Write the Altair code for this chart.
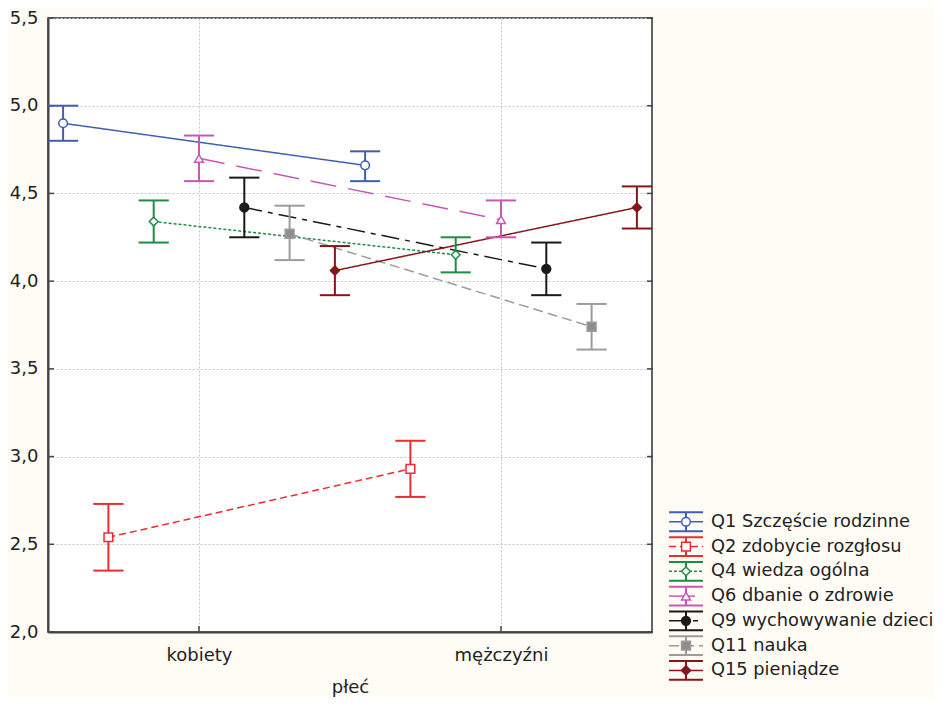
import altair as alt
import pandas as pd

series = ["Q1 Szczęście rodzinne", "Q2 zdobycie rozgłosu", "Q4 wiedza ogólna",
          "Q6 dbanie o zdrowie", "Q9 wychowywanie dzieci", "Q11 nauka", "Q15 pieniądze"]
categories = ["kobiety", "mężczyźni"]

mean_kobiety = [4.90, 2.54, 4.34, 4.70, 4.42, 4.27, 4.06]
lo_kobiety = [4.80, 2.35, 4.22, 4.57, 4.25, 4.12, 3.92]
hi_kobiety = [5.00, 2.73, 4.46, 4.83, 4.59, 4.43, 4.20]

mean_mezczyzni = [4.66, 2.93, 4.15, 4.35, 4.07, 3.74, 4.42]
lo_mezczyzni = [4.57, 2.77, 4.05, 4.25, 3.92, 3.61, 4.30]
hi_mezczyzni = [4.74, 3.09, 4.25, 4.46, 4.22, 3.87, 4.54]

y_ticks = [2.0, 2.5, 3.0, 3.5, 4.0, 4.5, 5.0, 5.5]

# styles
colors = ["#3F5FAF", "#EE2B30", "#1E8C45", "#C957B4", "#1A1A1A", "#9C9C9C", "#87161A"]
fills = ["white", "white", "white", "white", "#1A1A1A", "#8E8E8E", "#87161A"]
shapes = ["circle", "square", "diamond", "triangle-up", "circle", "square", "diamond"]
dashes = [[1, 0], [7, 4], [3, 2], [26, 12], [18, 6, 5, 6], [10, 5], [1, 0]]
sizes = [75, 80, 85, 90, 110, 120, 110]

rows = []
for i, s in enumerate(series):
    off = (i - 3) * 0.15
    for g, (m, lo, hi) in enumerate([(mean_kobiety[i], lo_kobiety[i], hi_kobiety[i]),
                                     (mean_mezczyzni[i], lo_mezczyzni[i], hi_mezczyzni[i])]):
        rows.append(dict(series=s, cat=categories[g], x=g + off, mean=m, lo=lo, hi=hi))
df = pd.DataFrame(rows)

FONT = "DejaVu Sans"
TXT = "#222222"

xscale = alt.Scale(domain=[-0.5, 1.5], nice=False, zero=False)
yscale = alt.Scale(domain=[2.0, 5.5], nice=False, zero=False)
color_scale = alt.Scale(domain=series, range=colors)
fill_scale = alt.Scale(domain=series, range=fills)
shape_scale = alt.Scale(domain=series, range=shapes)
dash_scale = alt.Scale(domain=series, range=dashes)
size_scale = alt.Scale(domain=series, range=sizes)

xaxis = alt.Axis(values=[0, 1],
                 labelExpr=f"datum.value == 0 ? '{categories[0]}' : '{categories[1]}'",
                 title="płeć", grid=True, gridDash=[2, 2], gridColor="#c4c4c4", gridWidth=1,
                 ticks=False, domainColor="#444444", domainWidth=2,
                 labelFont=FONT, labelFontSize=18, labelColor=TXT, labelPadding=14,
                 titleFont=FONT, titleFontSize=18, titleColor=TXT, titleFontWeight="normal",
                 titlePadding=14)
yaxis = alt.Axis(values=y_ticks,
                 labelExpr="replace(format(datum.value, '.1f'), '.', ',')",
                 title=None, grid=True, gridDash=[2, 2], gridColor="#c4c4c4", gridWidth=1,
                 ticks=False, domainColor="#444444", domainWidth=2,
                 labelFont=FONT, labelFontSize=18, labelColor=TXT, labelPadding=10)

X = alt.X("x:Q", scale=xscale, axis=xaxis)
base = alt.Chart(df)

lines = base.mark_line(strokeWidth=1.5).encode(
    x=X, y=alt.Y("mean:Q", scale=yscale, axis=yaxis),
    color=alt.Color("series:N", scale=color_scale, legend=None),
    strokeDash=alt.StrokeDash("series:N", scale=dash_scale, legend=None),
    detail="series:N",
)
bars = base.mark_rule(strokeWidth=2).encode(
    x=X, y=alt.Y("lo:Q", scale=yscale, axis=yaxis), y2="hi:Q",
    color=alt.Color("series:N", scale=color_scale, legend=None),
)
caps_lo = base.transform_calculate(xl="datum.x - 0.05", xr="datum.x + 0.05").mark_rule(strokeWidth=2).encode(
    x=alt.X("xl:Q", scale=xscale, axis=xaxis), x2="xr:Q",
    y=alt.Y("lo:Q", scale=yscale, axis=yaxis),
    color=alt.Color("series:N", scale=color_scale, legend=None),
)
caps_hi = base.transform_calculate(xl="datum.x - 0.05", xr="datum.x + 0.05").mark_rule(strokeWidth=2).encode(
    x=alt.X("xl:Q", scale=xscale, axis=xaxis), x2="xr:Q",
    y=alt.Y("hi:Q", scale=yscale, axis=yaxis),
    color=alt.Color("series:N", scale=color_scale, legend=None),
)
points = base.mark_point(filled=True, strokeWidth=1.5, opacity=1).encode(
    x=X, y=alt.Y("mean:Q", scale=yscale, axis=yaxis),
    shape=alt.Shape("series:N", scale=shape_scale, legend=None),
    fill=alt.Fill("series:N", scale=fill_scale, legend=None),
    stroke=alt.Stroke("series:N", scale=color_scale, legend=None),
    size=alt.Size("series:N", scale=size_scale, legend=None),
)

ytick_df = pd.DataFrame({"v": y_ticks})
xtick_df = pd.DataFrame({"v": [0, 1]})
tick_l = alt.Chart(ytick_df).mark_rule(color="#444444", strokeWidth=1.5).encode(
    y=alt.Y("v:Q", scale=yscale, axis=yaxis), x=alt.value(0), x2=alt.value(6))
tick_r = alt.Chart(ytick_df).mark_rule(color="#444444", strokeWidth=1.5).encode(
    y=alt.Y("v:Q", scale=yscale, axis=yaxis), x=alt.value(599), x2=alt.value(605))
tick_b = alt.Chart(xtick_df).mark_rule(color="#444444", strokeWidth=1.5).encode(
    x=alt.X("v:Q", scale=xscale, axis=xaxis), y=alt.value(608), y2=alt.value(614))

main = alt.layer(tick_l, tick_r, tick_b, lines, bars, caps_lo, caps_hi, points).properties(
    width=604, height=614,
    view=alt.ViewBackground(fill="white", stroke="#2f2f2f", strokeWidth=1.5),
)

# custom legend panel
leg_df = pd.DataFrame({"series": series, "row": list(range(len(series)))})
ly = alt.Scale(domain=[-20.34, 6.63], reverse=True, nice=False, zero=False)
lbase = alt.Chart(leg_df).transform_calculate(yt="datum.row - 0.38", yb="datum.row + 0.38")
LC = alt.Color("series:N", scale=color_scale, legend=None)

l_top = lbase.mark_rule(strokeWidth=2).encode(
    x=alt.value(17), x2=alt.value(51), y=alt.Y("yt:Q", scale=ly, axis=None), color=LC)
l_bot = lbase.mark_rule(strokeWidth=2).encode(
    x=alt.value(17), x2=alt.value(51), y=alt.Y("yb:Q", scale=ly, axis=None), color=LC)
l_vert = lbase.mark_rule(strokeWidth=2).encode(
    x=alt.value(34), y=alt.Y("yt:Q", scale=ly, axis=None), y2="yb:Q", color=LC)
l_mid = lbase.mark_rule(strokeWidth=1.5).encode(
    x=alt.value(17), x2=alt.value(51), y=alt.Y("row:Q", scale=ly, axis=None), color=LC,
    strokeDash=alt.StrokeDash("series:N", scale=dash_scale, legend=None))
l_pt = lbase.mark_point(filled=True, strokeWidth=1.5, opacity=1).encode(
    x=alt.value(34), y=alt.Y("row:Q", scale=ly, axis=None),
    shape=alt.Shape("series:N", scale=shape_scale, legend=None),
    fill=alt.Fill("series:N", scale=fill_scale, legend=None),
    stroke=alt.Stroke("series:N", scale=color_scale, legend=None),
    size=alt.Size("series:N", scale=size_scale, legend=None))
l_txt = lbase.mark_text(align="left", baseline="middle", font=FONT, fontSize=17.8, color=TXT).encode(
    x=alt.value(59), y=alt.Y("row:Q", scale=ly, axis=None), text="series:N")

legend = alt.layer(l_top, l_bot, l_vert, l_mid, l_pt, l_txt).properties(width=275, height=668)

chart = alt.hconcat(main, legend, spacing=0, bounds="flush").resolve_scale(
    x="independent", y="independent"
).properties(
    background="#FFFCF5",
    padding={"left": 0, "top": 0, "right": 0, "bottom": 0},
).configure_view(stroke="transparent")

chart.save("out.html", embed_options={"renderer": "svg", "actions": False})
